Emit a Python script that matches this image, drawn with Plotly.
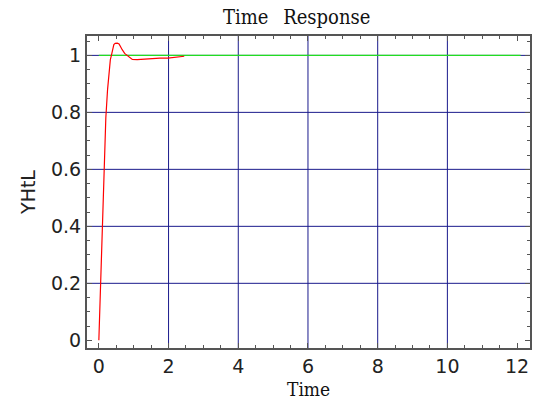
import plotly.graph_objects as go

# ---- data ----
time = [0, 0.05, 0.09, 0.14, 0.2, 0.25, 0.29, 0.33, 0.36, 0.39, 0.43, 0.47,
        0.53, 0.58, 0.62, 0.67, 0.74, 0.84, 0.96, 1.1, 1.27, 1.5, 1.75, 1.98,
        2.2, 2.45]
response = [0, 0.2, 0.4, 0.6, 0.78, 0.88, 0.95, 0.985, 1.0, 1.02, 1.038, 1.042,
            1.043, 1.04, 1.03, 1.02, 1.007, 0.998, 0.986, 0.985, 0.986, 0.99,
            0.99, 0.99, 0.993, 0.997]
ref_time = [0, 12.1]
ref_level = [1, 1]

x_ticks = [0, 2, 4, 6, 8, 10, 12]
x_ticklabels = ["0", "2", "4", "6", "8", "10", "12"]
y_ticks = [0, 0.2, 0.4, 0.6, 0.8, 1.0]
y_ticklabels = ["0", "0.2", "0.4", "0.6", "0.8", "1"]
grid_x = [2, 4, 6, 8, 10]
grid_y = [0.2, 0.4, 0.6, 0.8, 1.0]

title_text = "Time\u2002 Response"
x_title = "Time"
y_title = "YHtL"

GRID_COLOR = "#1a1a8c"
AXIS_COLOR = "#555555"
TICK_FONT = dict(family="DejaVu Sans", size=19, color="#222222")
SERIF_FONT = dict(family="DejaVu Serif Condensed, DejaVu Serif", size=20,
                  color="#111111")
XTITLE_FONT = dict(family="DejaVu Serif Condensed, DejaVu Serif", size=19,
                   color="#111111")

fig = go.Figure()

fig.add_trace(go.Scatter(x=ref_time, y=ref_level, mode="lines",
                         line=dict(color="#22dd22", width=1.3),
                         hoverinfo="skip", showlegend=False))
fig.add_trace(go.Scatter(x=time, y=response, mode="lines",
                         line=dict(color="#ff0000", width=1.2),
                         showlegend=False))

shapes = []
for gx in grid_x:
    shapes.append(dict(type="line", xref="x", yref="paper", x0=gx, x1=gx,
                       y0=0, y1=1, layer="below",
                       line=dict(color=GRID_COLOR, width=1)))
for gy in grid_y:
    shapes.append(dict(type="line", xref="paper", yref="y", x0=0, x1=1,
                       y0=gy, y1=gy, layer="below",
                       line=dict(color=GRID_COLOR, width=1)))

fig.update_layout(
    width=539, height=400,
    margin=dict(l=87, r=7, t=36, b=52),
    paper_bgcolor="white", plot_bgcolor="white",
    shapes=shapes,
    annotations=[
        dict(text=title_text, xref="paper", yref="paper", x=0.472, y=1.0,
             yshift=19, xanchor="center", yanchor="middle", showarrow=False,
             font=SERIF_FONT),
        dict(text=x_title, xref="paper", yref="paper", x=0.5, y=0,
             yshift=-41, xanchor="center", yanchor="middle", showarrow=False,
             font=XTITLE_FONT),
    ],
    xaxis=dict(
        range=[-0.34, 12.37], tickvals=x_ticks, ticktext=x_ticklabels,
        showgrid=False, zeroline=False,
        showline=True, linecolor=AXIS_COLOR, linewidth=2, mirror="allticks",
        ticks="inside", ticklen=5, tickcolor=AXIS_COLOR, tickwidth=1,
        minor=dict(dtick=0.5, tick0=0, ticks="inside", ticklen=3,
                   tickcolor=AXIS_COLOR, showgrid=False),
        tickfont=TICK_FONT,
    ),
    yaxis=dict(
        range=[-0.027, 1.068], tickvals=y_ticks, ticktext=y_ticklabels,
        showgrid=False, zeroline=False,
        showline=True, linecolor=AXIS_COLOR, linewidth=2, mirror="allticks",
        ticks="inside", ticklen=5, tickcolor=AXIS_COLOR, tickwidth=1,
        minor=dict(dtick=0.05, tick0=0, ticks="inside", ticklen=3,
                   tickcolor=AXIS_COLOR, showgrid=False),
        tickfont=TICK_FONT,
        title=dict(text=y_title, font=dict(family="DejaVu Sans", size=19,
                                           color="#222222"), standoff=10),
    ),
)

fig.write_html("out.html")
